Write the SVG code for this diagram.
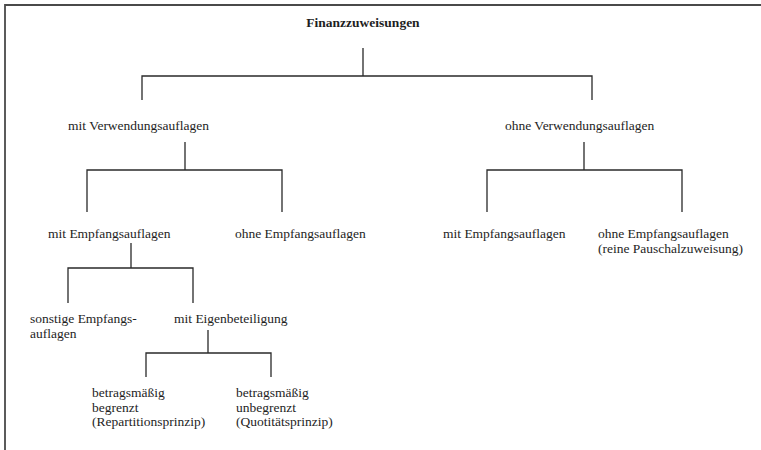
<svg xmlns="http://www.w3.org/2000/svg" width="761" height="450" viewBox="0 0 761 450">
<style>
text{font-family:"Liberation Serif","Times New Roman",serif;font-size:13.5px;fill:#1e1e1e}
.b{font-weight:bold}
.m{text-anchor:middle}
.c{fill:none;stroke:#2a2a2a;stroke-width:1.3}
.f{fill:none;stroke:#4a4a4a;stroke-width:1.8}
</style>
<rect width="761" height="450" fill="#fff"/>
<path class="f" d="M5,450 V5 H761"/>
<g id="connectors">
<path class="c" d="M363,48 V76 M142,100 V76 H592 V100"/>
<path class="c" d="M185,142 V170 M87,212 V170 H282 V212"/>
<path class="c" d="M584,142 V170 M487,212 V170 H682 V212"/>
<path class="c" d="M131,243 V268 M68,303 V268 H193 V303"/>
<path class="c" d="M208,330 V353 M146,377 V353 H271 V377"/>
</g>
<g id="n-root"><text class="b m" x="363" y="27">Finanzzuweisungen</text></g>
<g id="n-mitV"><text x="68" y="130">mit Verwendungsauflagen</text></g>
<g id="n-ohneV"><text x="505" y="130">ohne Verwendungsauflagen</text></g>
<g id="n-mitE1"><text x="48" y="238">mit Empfangsauflagen</text></g>
<g id="n-ohneE1"><text x="235" y="238">ohne Empfangsauflagen</text></g>
<g id="n-mitE2"><text x="443" y="238">mit Empfangsauflagen</text></g>
<g id="n-ohneE2"><text x="598" y="238">ohne Empfangsauflagen</text><text x="598" y="253">(reine Pauschalzuweisung)</text></g>
<g id="n-sonst"><text x="30" y="323">sonstige Empfangs-</text><text x="30" y="338">auflagen</text></g>
<g id="n-eigen"><text x="174" y="323">mit Eigenbeteiligung</text></g>
<g id="n-begr"><text x="92" y="397">betragsmäßig</text><text x="92" y="411.5">begrenzt</text><text x="92" y="426">(Repartitionsprinzip)</text></g>
<g id="n-unbegr"><text x="236" y="397">betragsmäßig</text><text x="236" y="411.5">unbegrenzt</text><text x="236" y="426">(Quotitätsprinzip)</text></g>
</svg>
